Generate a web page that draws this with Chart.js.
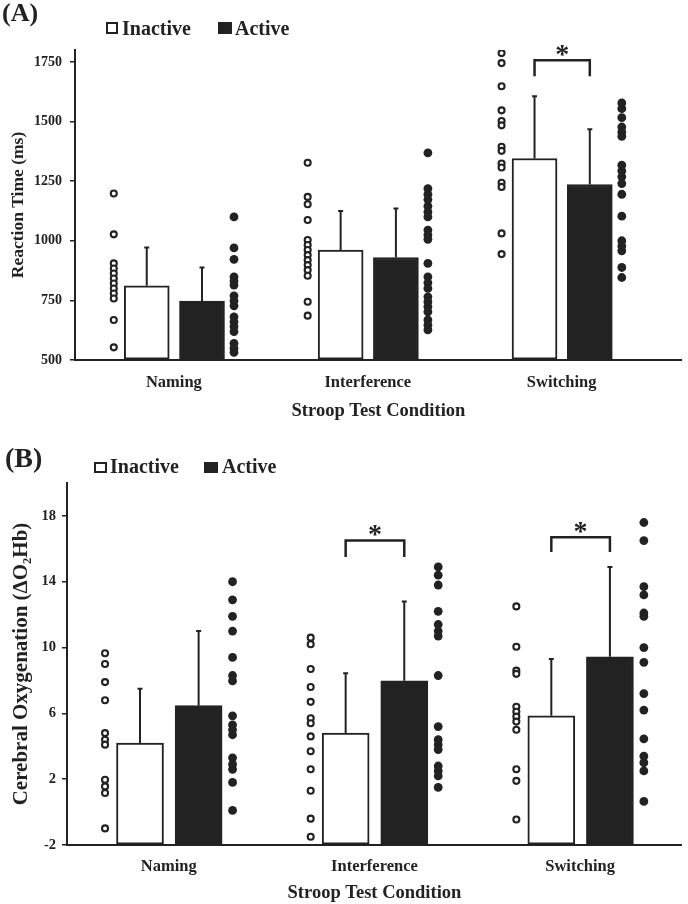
<!DOCTYPE html>
<html><head><meta charset="utf-8">
<script src="https://cdn.jsdelivr.net/npm/chart.js@4.4.0/dist/chart.umd.min.js"></script>
<style>
html,body{margin:0;padding:0;background:#fff;}
body{width:688px;height:904px;position:relative;overflow:hidden;font-family:"Liberation Serif","Times New Roman",serif;font-weight:bold;color:#222;}
#wa{position:absolute;left:0;top:0;width:688px;height:430px;}
#wb{position:absolute;left:0;top:430px;width:688px;height:474px;}
.panel{position:absolute;white-space:nowrap;}
.leg{position:absolute;font-size:20px;line-height:20px;white-space:nowrap;}
.sq{position:absolute;box-sizing:border-box;border:2px solid #222;background:#fff;}
.sq.f{background:#222;}
</style></head><body>
<div id="wa"><canvas id="ca" width="688" height="430"></canvas></div>
<div id="wb"><canvas id="cb" width="688" height="474"></canvas></div>
<div class="panel" style="left:2px;top:0px;font-size:26px;line-height:26px;">(A)</div>
<div class="sq" style="left:106px;top:22px;width:12px;height:12px;"></div>
<div class="leg" style="left:122px;top:18px;">Inactive</div>
<div class="sq f" style="left:218px;top:22px;width:14px;height:12px;"></div>
<div class="leg" style="left:235px;top:18px;">Active</div>
<div class="panel" style="left:5px;top:444px;font-size:28px;line-height:28px;">(B)</div>
<div class="sq" style="left:94px;top:462px;width:13px;height:11px;"></div>
<div class="leg" style="left:110px;top:456px;">Inactive</div>
<div class="sq f" style="left:204px;top:462px;width:14px;height:11px;"></div>
<div class="leg" style="left:222px;top:456px;">Active</div>
<script>
// ---------- DATA ----------
const categories = ['Naming', 'Interference', 'Switching'];

// Panel A: Reaction time (ms)
const rtTicks = [500, 750, 1000, 1250, 1500, 1750];
const rtMeanInactive = [811, 961, 1345];
const rtMeanActive = [747, 930, 1236];
const rtSdInactive = [161, 164, 261];
const rtSdActive = [141, 205, 232];
const rtInactiveNaming = [1198, 1027, 905, 884, 863, 842, 821, 800, 779, 758, 668, 553];
const rtActiveNaming = [1100, 970, 922, 849, 831, 814, 769, 748, 727, 681, 660, 640, 619, 570, 549, 532];
const rtInactiveInterference = [1327, 1184, 1153, 1087, 1003, 982, 961, 940, 919, 898, 877, 853, 744, 686];
const rtActiveInterference = [1369, 1219, 1195, 1173, 1145, 1121, 1100, 1045, 1024, 1006, 905, 849, 824, 800, 765, 744, 723, 702, 668, 647, 626];
const rtInactiveSwitching = [1787, 1745, 1648, 1547, 1502, 1484, 1394, 1377, 1324, 1307, 1243, 1226, 1031, 944];
const rtActiveSwitching = [1578, 1554, 1516, 1477, 1456, 1438, 1317, 1293, 1268, 1240, 1195, 1103, 1000, 978, 958, 888, 846];
const rtSignificance = [{ category: 2, top: 1757, leg: 1690 }];

// Panel B: Cerebral oxygenation (ΔO2Hb)
const oxyTicks = [-2, 2, 6, 10, 14, 18];
const oxyMeanInactive = [4.2, 4.8, 5.85];
const oxyMeanActive = [6.47, 7.98, 9.44];
const oxySdInactive = [3.3, 3.64, 3.45];
const oxySdActive = [4.53, 4.82, 5.46];
const oxyInactiveNaming = [9.65, 9.0, 7.9, 6.8, 4.8, 4.4, 4.1, 1.97, 1.56, 1.16, -0.99];
const oxyActiveNaming = [14.0, 12.9, 11.9, 11.0, 9.4, 8.3, 7.97, 5.85, 5.3, 5.0, 4.7, 3.3, 2.9, 2.6, 1.8, 0.1];
const oxyInactiveInterference = [10.6, 10.2, 8.7, 7.6, 6.7, 5.7, 5.4, 4.6, 3.7, 2.6, 1.3, -0.4, -1.5];
const oxyActiveInterference = [14.9, 14.4, 13.8, 12.2, 11.4, 11.0, 10.7, 8.3, 5.2, 4.4, 4.1, 3.8, 2.8, 2.5, 2.2, 1.5];
const oxyInactiveSwitching = [12.5, 10.05, 8.6, 8.4, 6.4, 6.1, 5.8, 5.5, 5.0, 2.6, 1.9, -0.45];
const oxyActiveSwitching = [17.6, 16.5, 13.7, 13.2, 12.1, 11.9, 10.0, 9.1, 7.2, 6.2, 4.45, 3.4, 3.0, 2.5, 0.65];
const oxySignificance = [{ category: 1, top: 16.5, leg: 15.5 }, { category: 2, top: 16.7, leg: 15.8 }];

// ---------- LAYOUT CONSTANTS ----------
const FONT = '"Liberation Serif", "Times New Roman", serif';
const INK = '#222';
const BAR_OFF_IN = -0.14, BAR_OFF_ACT = 0.145, DOT_OFF = 0.31;

const errorBarPlugin = {
  id: 'errorBars',
  afterDatasetsDraw(chart) {
    const { ctx, scales: { x, y } } = chart;
    chart.data.datasets.forEach((ds) => {
      if (!ds.errors) return;
      ds.data.forEach((pt, i) => {
        const px = x.getPixelForValue(pt.x);
        const y0 = y.getPixelForValue(pt.y);
        const y1 = y.getPixelForValue(pt.y + ds.errors[i]);
        ctx.save();
        ctx.strokeStyle = INK; ctx.lineWidth = 2;
        ctx.beginPath();
        ctx.moveTo(px, y0); ctx.lineTo(px, y1);
        ctx.moveTo(px - 2.5, y1); ctx.lineTo(px + 2.5, y1);
        ctx.stroke();
        ctx.restore();
      });
    });
  }
};

const sigPlugin = {
  id: 'sig',
  afterDatasetsDraw(chart, args, opts) {
    const { ctx, scales: { x, y } } = chart;
    (opts.items || []).forEach((it) => {
      const x0 = x.getPixelForValue(it.category + BAR_OFF_IN);
      const x1 = x.getPixelForValue(it.category + BAR_OFF_ACT);
      const yt = y.getPixelForValue(it.top);
      const yl = y.getPixelForValue(it.leg);
      ctx.save();
      ctx.strokeStyle = INK; ctx.lineWidth = 2.5;
      ctx.beginPath();
      ctx.moveTo(x0, yl); ctx.lineTo(x0, yt); ctx.lineTo(x1, yt); ctx.lineTo(x1, yl);
      ctx.stroke();
      ctx.fillStyle = INK;
      ctx.font = 'bold 28px ' + FONT;
      ctx.textAlign = 'center'; ctx.textBaseline = 'alphabetic';
      ctx.fillText('*', (x0 + x1) / 2, yt + 2.5);
      ctx.restore();
    });
  }
};

function dots(groups, off) {
  const out = [];
  groups.forEach((vals, i) => vals.forEach((v) => out.push({ x: i + off, y: v })));
  return out;
}
function bars(means, off) { return means.map((v, i) => ({ x: i + off, y: v })); }

function build(canvasId, o) {
  return new Chart(document.getElementById(canvasId), {
    type: 'bar',
    data: {
      datasets: [
        { label: 'Inactive', data: bars(o.meanIn, BAR_OFF_IN), errors: o.sdIn, base: o.ymin,
          backgroundColor: '#fff', borderColor: INK, borderWidth: 2, borderSkipped: false,
          barThickness: o.barW, grouped: false, order: 2 },
        { label: 'Active', data: bars(o.meanAct, BAR_OFF_ACT), errors: o.sdAct, base: o.ymin,
          backgroundColor: INK, borderColor: INK, borderWidth: 2, borderSkipped: false,
          barThickness: o.barW, grouped: false, order: 2 },
        { type: 'scatter', label: 'Inactive points', data: dots(o.ptsIn, -DOT_OFF),
          pointRadius: 3, pointBorderWidth: 2.1, pointBackgroundColor: '#fff', pointBorderColor: INK,
          showLine: false, order: 1 },
        { type: 'scatter', label: 'Active points', data: dots(o.ptsAct, DOT_OFF),
          pointRadius: 4.4, pointBorderWidth: 0, pointBackgroundColor: INK, pointBorderColor: INK,
          showLine: false, order: 1 }
      ]
    },
    options: {
      responsive: false, animation: false, devicePixelRatio: 1,
      layout: { padding: { top: o.padTop, right: 5, left: 0, bottom: 0 } },
      plugins: { legend: { display: false }, tooltip: { enabled: false },
        sig: { items: o.sig } },
      scales: {
        x: {
          type: 'linear', min: o.xmin, max: o.xmax, offset: false,
          afterBuildTicks: (s) => { s.ticks = categories.map((c, i) => ({ value: i })); },
          afterFit: (s) => { s.height = o.xH; },
          grid: { display: false, offset: false },
          border: { display: true, color: INK, width: 2 },
          ticks: { autoSkip: false, maxRotation: 0, padding: o.xTickPad, color: INK,
            font: { family: FONT, weight: 'bold', size: 16.5 },
            callback: (v) => categories[v] !== undefined ? categories[v] : '' },
          title: { display: true, text: 'Stroop Test Condition', color: INK,
            font: { family: FONT, weight: 'bold', size: 18.5 }, padding: { top: 0, bottom: o.xTitlePad } }
        },
        y: {
          min: o.ymin, max: o.ymax,
          afterBuildTicks: (s) => { s.ticks = o.ticks.map((v) => ({ value: v })); },
          afterFit: (s) => { s.width = o.yW; },
          grid: { display: true, drawOnChartArea: false, drawTicks: true, tickLength: 5, color: INK, lineWidth: 1.5 },
          border: { display: true, color: INK, width: 2 },
          ticks: { padding: o.yTickPad, color: INK, font: { family: FONT, weight: 'bold', size: o.yTickSize },
            callback: (v) => String(v) },
          title: { display: true, text: o.yTitle, color: INK,
            font: { family: FONT, weight: 'bold', size: o.yTitleSize }, padding: { top: o.yTitlePad, bottom: 0 } }
        }
      }
    },
    plugins: [errorBarPlugin, sigPlugin]
  });
}

build('ca', {
  meanIn: rtMeanInactive, meanAct: rtMeanActive, sdIn: rtSdInactive, sdAct: rtSdActive,
  ptsIn: [rtInactiveNaming, rtInactiveInterference, rtInactiveSwitching],
  ptsAct: [rtActiveNaming, rtActiveInterference, rtActiveSwitching],
  sig: rtSignificance, ticks: rtTicks, ymin: 500, ymax: 1800,
  xmin: -0.51, xmax: 2.62, barW: 45, padTop: 50, xH: 70, yW: 75,
  xTickPad: 5, xTitlePad: 7.5, yTickPad: 8, yTickSize: 14,
  yTitle: 'Reaction Time (ms)', yTitleSize: 17.5, yTitlePad: 7.5
});

build('cb', {
  meanIn: oxyMeanInactive, meanAct: oxyMeanActive, sdIn: oxySdInactive, sdAct: oxySdActive,
  ptsIn: [oxyInactiveNaming, oxyInactiveInterference, oxyInactiveSwitching],
  ptsAct: [oxyActiveNaming, oxyActiveInterference, oxyActiveSwitching],
  sig: oxySignificance, ticks: oxyTicks, ymin: -2, ymax: 20,
  xmin: -0.495, xmax: 2.495, barW: 47, padTop: 53, xH: 59, yW: 67,
  xTickPad: 4, xTitlePad: 0, yTickPad: 6, yTickSize: 14.5,
  yTitle: 'Cerebral Oxygenation (\u0394O\u2082Hb)', yTitleSize: 21, yTitlePad: 9
});
</script>
</body></html>
